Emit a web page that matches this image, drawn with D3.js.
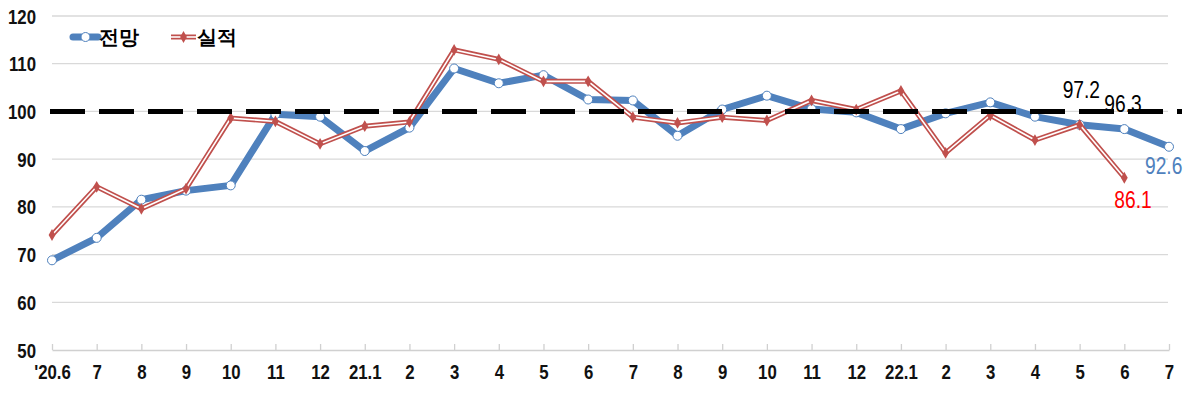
<!DOCTYPE html>
<html>
<head>
<meta charset="utf-8">
<script src="https://cdn.jsdelivr.net/npm/d3@7"></script>
<style>
  body { margin: 0; background: #fff; }
  svg text { font-family: "Liberation Sans", Arial, sans-serif; }
</style>
</head>
<body>
<svg id="chart"></svg>
<script>
// month labels
let months = ["'20.6","7","8","9","10","11","12","21.1","2","3","4","5","6",
              "7","8","9","10","11","12","22.1","2","3","4","5","6","7"];

// 전망 (outlook)
let outlook = [68.8, 73.5, 81.5, 83.4, 84.5, 99.4, 98.9, 91.7, 96.6, 109.0, 105.9, 107.6, 102.5,
               102.3, 94.9, 100.4, 103.3, 100.5, 99.8, 96.3, 99.6, 101.9, 98.9, 97.2, 96.3, 92.6];

// 실적 (actual)
let actual = [74.1, 84.2, 79.6, 83.8, 98.6, 97.9, 93.2, 96.9, 97.8, 112.9, 110.9, 106.3, 106.3,
              98.8, 97.6, 98.8, 98.1, 102.3, 100.4, 104.3, 91.3, 99.2, 94.0, 97.2, 86.1];

let yTicks = [50, 60, 70, 80, 90, 100, 110, 120];

let width = 1200;
let height = 394;

let blue = "#4F81BD";
let red = "#C0504D";

// squeeze text horizontally around its anchor (no narrow font installed)
let squeeze = 0.8;
function narrow(sel)
{
    sel.attr("transform", function() {
        const ax = +this.getAttribute("x") || 0;
        return `translate(${ax * (1 - squeeze)},0) scale(${squeeze},1)`;
    });
}

let svg = d3.select("#chart").attr("width", width).attr("height", height);

let x = d3.scalePoint()
    .domain(d3.range(months.length))
    .range([52, 1169]);

let y = d3.scaleLinear()
    .domain([50, 120])
    .range([350, 16]);

// gridlines
svg.append("g")
    .selectAll("line")
    .data(yTicks.filter(d => d > 50))
    .join("line")
    .attr("x1", 52)
    .attr("x2", 1168)
    .attr("y1", d => y(d))
    .attr("y2", d => y(d))
    .attr("stroke", "#d9d9d9")
    .attr("stroke-width", 1.3);

// y labels
svg.append("g")
    .selectAll("g")
    .data(yTicks)
    .join("g")
    .attr("transform", d => `translate(36, ${y(d)})`)
    .append("text")
    .attr("x", 0)
    .attr("dy", "0.36em")
    .attr("text-anchor", "end")
    .attr("font-size", 21)
    .attr("font-weight", "bold")
    .attr("fill", "#111")
    .text(d => d)
    .call(narrow);

// x axis
let xAxis = svg.append("g")
    .attr("transform", `translate(0, ${y(50)})`)
    .call(d3.axisBottom(x)
        .tickSize(-6)
        .tickSizeOuter(0)
        .tickPadding(14)
        .tickFormat(i => months[i]));

xAxis.select(".domain").attr("stroke", "#d0d0d0").attr("stroke-width", 1.3);
xAxis.selectAll(".tick line").attr("stroke", "#d0d0d0").attr("stroke-width", 1.3);
xAxis.selectAll(".tick text")
    .attr("font-size", 21)
    .attr("font-weight", "bold")
    .attr("fill", "#111")
    .attr("font-family", "\"Liberation Sans\", Arial, sans-serif")
    .call(narrow);

let line = d3.line()
    .x((d, i) => x(i))
    .y(d => y(d));

// 전망 line
svg.append("path")
    .datum(outlook)
    .attr("d", line)
    .attr("fill", "none")
    .attr("stroke", blue)
    .attr("stroke-width", 7)
    .attr("stroke-linejoin", "round");

svg.append("g")
    .selectAll("circle")
    .data(outlook)
    .join("circle")
    .attr("cx", (d, i) => x(i))
    .attr("cy", d => y(d))
    .attr("r", 4.5)
    .attr("fill", "#fff")
    .attr("stroke", blue)
    .attr("stroke-width", 1);

// 실적 line (double stroke)
svg.append("path")
    .datum(actual)
    .attr("d", line)
    .attr("fill", "none")
    .attr("stroke", red)
    .attr("stroke-width", 5)
    .attr("stroke-linejoin", "miter");

svg.append("path")
    .datum(actual)
    .attr("d", line)
    .attr("fill", "none")
    .attr("stroke", "#fff")
    .attr("stroke-width", 1.6)
    .attr("stroke-linejoin", "miter");

svg.append("g")
    .selectAll("path")
    .data(actual)
    .join("path")
    .attr("d", d3.symbol(d3.symbolDiamond, 40))
    .attr("transform", (d, i) => `translate(${x(i)}, ${y(d)})`)
    .attr("fill", red);

// reference line at 100
svg.append("line")
    .attr("x1", 50)
    .attr("x2", 1182)
    .attr("y1", y(100))
    .attr("y2", y(100))
    .attr("stroke", "#000")
    .attr("stroke-width", 5)
    .attr("stroke-dasharray", "35 14");

// value labels
let last = months.length - 1;
let lastActual = actual.length - 1;
let valueLabels = [
    {x: x(last - 2) - 17, y: 98,  color: "#000",    text: outlook[last - 2].toFixed(1)},
    {x: x(last - 1) - 20, y: 112, color: "#000",    text: outlook[last - 1].toFixed(1)},
    {x: x(last) - 24,     y: 174, color: "#4F81BD", text: outlook[last].toFixed(1)},
    {x: x(lastActual) - 10, y: 208, color: "#FF0000", text: actual[lastActual].toFixed(1)}
];

svg.append("g")
    .selectAll("text")
    .data(valueLabels)
    .join("text")
    .attr("x", d => d.x)
    .attr("y", d => d.y)
    .attr("font-size", 24)
    .attr("fill", d => d.color)
    .text(d => d.text)
    .call(narrow);

// legend
let legend = svg.append("g");

legend.append("line")
    .attr("x1", 73).attr("x2", 98).attr("y1", 37).attr("y2", 37)
    .attr("stroke", blue).attr("stroke-width", 7).attr("stroke-linecap", "round");
legend.append("circle")
    .attr("cx", 85.5).attr("cy", 37).attr("r", 4.5)
    .attr("fill", "#fff").attr("stroke", blue).attr("stroke-width", 1);
legend.append("text")
    .attr("x", 99).attr("y", 37).attr("dy", "0.36em")
    .attr("font-size", 20).attr("font-weight", "bold")
    .attr("font-family", "\"Noto Sans CJK KR\", sans-serif")
    .attr("fill", "#000")
    .text("전망");

legend.append("line")
    .attr("x1", 171).attr("x2", 196).attr("y1", 37).attr("y2", 37)
    .attr("stroke", red).attr("stroke-width", 5);
legend.append("line")
    .attr("x1", 171).attr("x2", 196).attr("y1", 37).attr("y2", 37)
    .attr("stroke", "#fff").attr("stroke-width", 1.6);
legend.append("path")
    .attr("d", d3.symbol(d3.symbolDiamond, 40))
    .attr("transform", "translate(183.5, 37)")
    .attr("fill", red);
legend.append("text")
    .attr("x", 197).attr("y", 37).attr("dy", "0.36em")
    .attr("font-size", 20).attr("font-weight", "bold")
    .attr("font-family", "\"Noto Sans CJK KR\", sans-serif")
    .attr("fill", "#000")
    .text("실적");
</script>
</body>
</html>
